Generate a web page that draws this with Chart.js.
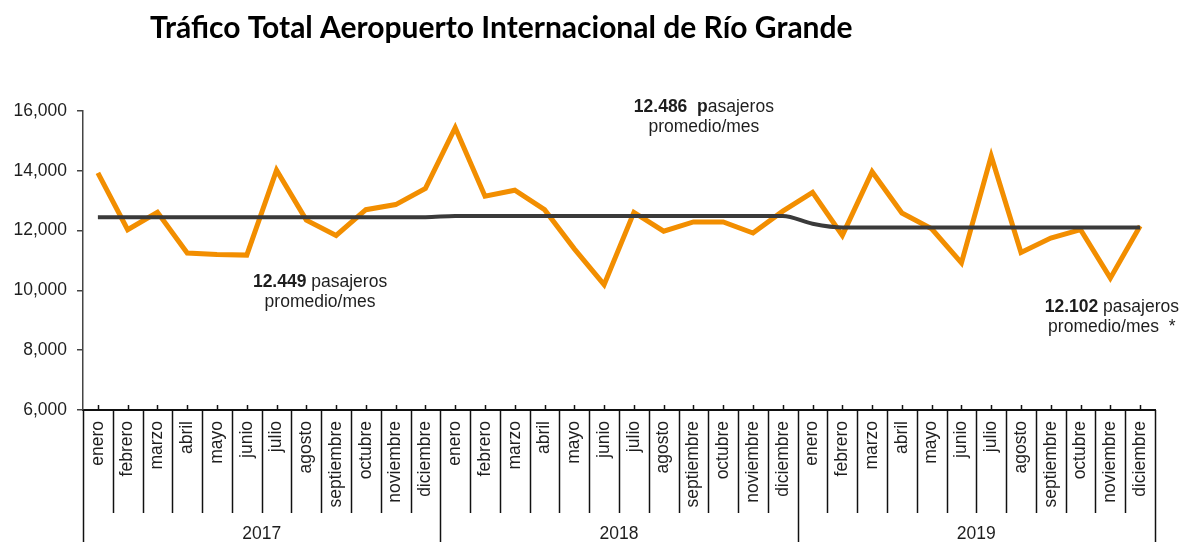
<!DOCTYPE html>
<html>
<head>
<meta charset="utf-8">
<script src="https://cdn.jsdelivr.net/npm/chart.js@4.4.1/dist/chart.umd.min.js"></script>
<style>
  html, body { margin: 0; padding: 0; background: #fff; }
  #wrap { width: 1185px; height: 542px; position: relative; }
</style>
</head>
<body>
<div id="wrap"><canvas id="myChart" width="1185" height="542"></canvas></div>
<script>
const ctx = document.getElementById('myChart').getContext('2d');

/*** Data ***/
const years = ['2017', '2018', '2019'];
const monthNames = ['enero', 'febrero', 'marzo', 'abril', 'mayo', 'junio', 'julio',
    'agosto', 'septiembre', 'octubre', 'noviembre', 'diciembre'];

const traffic2017 = [13930, 12030, 12610, 11250, 11200, 11180, 14020, 12350, 11840, 12700, 12870, 13410];
const traffic2018 = [15440, 13150, 13350, 12700, 11390, 10190, 12610, 11980, 12290, 12290, 11920, 12650];
const traffic2019 = [13280, 11840, 13970, 12590, 12060, 10920, 14490, 11270, 11750, 12030, 10410, 12150];

const average2017 = [12449, 12449, 12449, 12449, 12449, 12449, 12449, 12449, 12449, 12449, 12449, 12449];
const average2018 = [12486, 12486, 12486, 12486, 12486, 12486, 12486, 12486, 12486, 12486, 12486, 12486];
const average2019 = [12230, 12102, 12102, 12102, 12102, 12102, 12102, 12102, 12102, 12102, 12102, 12102];

const yTicks = [6000, 8000, 10000, 12000, 14000, 16000];

const labels = [...monthNames, ...monthNames, ...monthNames];
const traffic = [...traffic2017, ...traffic2018, ...traffic2019];
const average = [...average2017, ...average2018, ...average2019];
/*************/

const orange = '#F28E00';
const darkLine = '#3a3a3a';
const textColor = '#1e1e1e';
const axisFont = "'Liberation Sans', Arial, sans-serif";

// notes next to the average line: [category position, value, bold part, rest, second line]
const notes = [
    {at: 7.46, value: 10110, bold: '12.449', rest: ' pasajeros', line2: 'promedio/mes'},
    {at: 20.35, value: 15970, bold: '12.486  p', rest: 'asajeros', line2: 'promedio/mes'},
    {at: 34.05, value: 9280, bold: '12.102', rest: ' pasajeros', line2: 'promedio/mes  *'}
];

function xAt(scale, pos) {
    const i = Math.floor(pos);
    const a = scale.getPixelForValue(i);
    const b = scale.getPixelForValue(i + 1);
    return a + (b - a) * (pos - i);
}

// title, notes, category separators, year labels
const decorations = {
    id: 'decorations',
    afterDraw(chart) {
        const { ctx, chartArea: { bottom }, scales: { x, y } } = chart;
        ctx.save();

        // title
        ctx.fillStyle = '#000';
        ctx.font = "bold 30px Lato, 'Open Sans', sans-serif";
        ctx.textAlign = 'left';
        ctx.textBaseline = 'alphabetic';
        ctx.fillText('Tráfico Total Aeropuerto Internacional de Río Grande', 150, 38);

        // notes
        ctx.fillStyle = textColor;
        notes.forEach(function(n) {
            const cx = xAt(x, n.at);
            const cy = y.getPixelForValue(n.value);
            ctx.font = 'bold 17.5px ' + axisFont;
            const wb = ctx.measureText(n.bold).width;
            ctx.font = '17.5px ' + axisFont;
            const wr = ctx.measureText(n.rest).width;
            let left = cx - (wb + wr) / 2;
            ctx.textAlign = 'left';
            ctx.font = 'bold 17.5px ' + axisFont;
            ctx.fillText(n.bold, left, cy);
            ctx.font = '17.5px ' + axisFont;
            ctx.fillText(n.rest, left + wb, cy);
            ctx.textAlign = 'center';
            ctx.fillText(n.line2, cx, cy + 20);
        });

        // small ticks at category centres, pointing up
        ctx.strokeStyle = '#111';
        ctx.lineWidth = 1.5;
        labels.forEach(function(l, i) {
            const px = Math.round(x.getPixelForValue(i)) + 0.5;
            ctx.beginPath();
            ctx.moveTo(px, bottom);
            ctx.lineTo(px, bottom - 5);
            ctx.stroke();
        });

        // separators between months and years
        const step = x.getPixelForValue(1) - x.getPixelForValue(0);
        for (let i = 0; i <= labels.length; i++) {
            const px = Math.round(x.getPixelForValue(0) - step / 2 + i * step) + 0.5;
            const yearEdge = i % 12 === 0;
            ctx.beginPath();
            ctx.moveTo(px, bottom);
            ctx.lineTo(px, yearEdge ? chart.height : bottom + 103);
            ctx.stroke();
        }

        // year labels
        ctx.font = '17.5px ' + axisFont;
        ctx.fillStyle = textColor;
        ctx.textAlign = 'center';
        years.forEach(function(yr, k) {
            const cx = (x.getPixelForValue(k * 12) + x.getPixelForValue(k * 12 + 11)) / 2;
            ctx.fillText(yr, cx, 539);
        });
        ctx.restore();
    }
};

const data = {
    labels: labels,
    datasets: [{
        label: 'Promedio',
        data: average,
        borderColor: darkLine,
        borderWidth: 4,
        pointRadius: 0,
        cubicInterpolationMode: 'monotone'
    }, {
        label: 'Tráfico total',
        data: traffic,
        borderColor: orange,
        borderWidth: 5,
        pointRadius: 0,
        tension: 0
    }]
};

const config = {
    type: 'line',
    data,
    options: {
        responsive: false,
        animation: false,
        layout: {
            padding: {top: 111, right: 30, left: 0, bottom: 0}
        },
        plugins: {
            legend: {display: false},
            tooltip: {enabled: false},
            title: {display: false}
        },
        scales: {
            x: {
                offset: true,
                grid: {display: false},
                border: {display: true, color: '#111', width: 2},
                ticks: {
                    autoSkip: false,
                    maxRotation: 90,
                    minRotation: 90,
                    padding: 3,
                    color: textColor,
                    font: {family: axisFont, size: 17.5}
                },
                afterFit: function(scale) { scale.height = 132; }
            },
            y: {
                min: 6000,
                max: 16000,
                afterBuildTicks: function(scale) {
                    scale.ticks = yTicks.map(v => ({value: v}));
                },
                grid: {
                    display: true,
                    drawOnChartArea: false,
                    drawTicks: true,
                    tickLength: 6,
                    color: '#444',
                    lineWidth: 1.5
                },
                border: {display: true, color: '#444', width: 1.5},
                ticks: {
                    padding: 10,
                    color: textColor,
                    font: {family: axisFont, size: 17.5},
                    callback: function(value) { return value.toLocaleString('en-US'); }
                },
                afterFit: function(scale) { scale.width = 83; }
            }
        }
    },
    plugins: [decorations]
};

const myChart = new Chart(ctx, config);
</script>
</body>
</html>
